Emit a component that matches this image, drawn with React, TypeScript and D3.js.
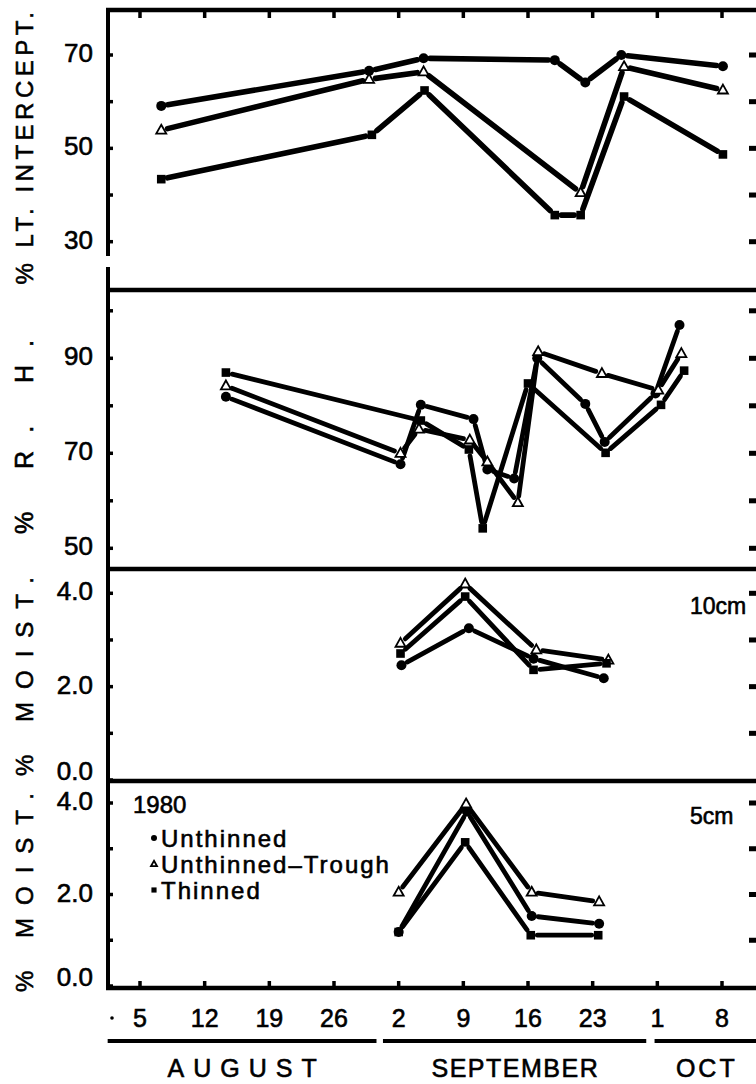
import React from "react";
import * as d3 from "d3";

const FONT = "'Liberation Sans', Arial, sans-serif";

// ---- x axis (days counted from Aug 1) ----
const WEEK_DAYS = [5, 12, 19, 26, 33, 40, 47, 54, 61, 68];
const WEEK_LABELS = ["5", "12", "19", "26", "2", "9", "16", "23", "1", "8"];
const MONTH_NAMES = ["AUGUST", "SEPTEMBER", "OCT"];
const MONTH_FROM = [1.5, 31.3, 60.7];
const MONTH_TO = [30.6, 59.8, 72];

const SERIES_NAMES = ["Unthinned", "Unthinned\u2013Trough", "Thinned"];
const LEGEND_YEAR = "1980";

// ---- % light intercept ----
const LT_U_DAY = [7.3, 29.8, 35.7, 49.9, 53.2, 57.1, 68.1];
const LT_U = [59.1, 66.6, 69.3, 68.9, 64.1, 70.0, 67.6];
const LT_T_DAY = [7.3, 29.8, 35.7, 52.7, 57.4, 68.1];
const LT_T = [53.9, 64.8, 66.4, 40.5, 67.5, 62.5];
const LT_S_DAY = [7.3, 30.1, 35.8, 49.9, 52.7, 57.4, 68.1];
const LT_S = [43.4, 52.9, 62.4, 35.7, 35.7, 61.1, 48.7];
const LT_TICKS = [30, 40, 50, 60, 70];
const LT_LABELS = [30, 50, 70];

// ---- % R.H. ----
const RH_U_DAY = [14.3, 33.2, 35.4, 41.1, 42.6, 45.5, 48.0, 53.2, 55.3, 60.8, 63.4];
const RH_U = [81.9, 67.7, 80.2, 77.2, 66.6, 64.7, 90.0, 80.4, 72.4, 82.6, 97.0];
const RH_T_DAY = [14.3, 33.2, 35.2, 40.7, 42.6, 45.9, 48.1, 55.0, 61.1, 63.6];
const RH_T = [84.2, 70.0, 75.1, 72.8, 68.2, 59.6, 91.4, 86.8, 83.3, 91.0];
const RH_S_DAY = [14.3, 35.4, 40.6, 42.1, 47.0, 55.4, 61.4, 63.9];
const RH_S = [87.0, 76.9, 70.8, 54.2, 84.7, 70.1, 80.2, 87.4];
const RH_TICKS = [50, 60, 70, 80, 90, 100];
const RH_LABELS = [50, 70, 90];

// ---- % moisture 10 cm ----
const M10_U_DAY = [33.3, 40.6, 47.6, 55.2];
const M10_U = [2.46, 3.25, 2.6, 2.18];
const M10_T_DAY = [33.2, 40.2, 47.9, 55.7];
const M10_T = [2.93, 4.2, 2.79, 2.57];
const M10_S_DAY = [33.2, 40.2, 47.6, 55.5];
const M10_S = [2.71, 3.93, 2.36, 2.5];

// ---- % moisture 5 cm ----
const M5_U_DAY = [33.0, 40.4, 47.4, 54.7];
const M5_U = [1.18, 3.81, 1.53, 1.36];
const M5_T_DAY = [33.0, 40.3, 47.4, 54.7];
const M5_T = [2.05, 3.98, 2.05, 1.84];
const M5_S_DAY = [33.0, 40.2, 47.3, 54.6];
const M5_S = [1.18, 3.14, 1.11, 1.11];

const M_TICKS = [0, 1, 2, 3, 4];
const M_LABELS = [0, 2, 4];

type Kind = "circle" | "triangle" | "square";
type Series = { kind: Kind; days: number[]; values: number[] };

function makeSeries(kind: Kind, days: number[], values: number[]): Series {
  return { kind, days, values };
}

function gapped(pts: [number, number][], gap: number) {
  const segs: [number, number, number, number][] = [];
  for (let i = 0; i < pts.length - 1; i++) {
    const [x1, y1] = pts[i];
    const [x2, y2] = pts[i + 1];
    const len = Math.hypot(x2 - x1, y2 - y1);
    if (len <= gap * 2 + 1) continue;
    const ux = (x2 - x1) / len;
    const uy = (y2 - y1) / len;
    segs.push([x1 + ux * gap, y1 + uy * gap, x2 - ux * gap, y2 - uy * gap]);
  }
  return segs;
}

function Marker({ kind, x, y, s = 1 }: { kind: Kind; x: number; y: number; s?: number }) {
  if (kind === "circle") return <circle cx={x} cy={y} r={5 * s} fill="#000" />;
  if (kind === "square")
    return <rect x={x - 4.3 * s} y={y - 4.3 * s} width={8.6 * s} height={8.6 * s} fill="#000" />;
  const h = 5.4 * s;
  return (
    <path
      d={`M${x},${y - h}L${x + 5 * s},${y + h * 0.65}L${x - 5 * s},${y + h * 0.65}Z`}
      fill="#fff"
      stroke="#000"
      strokeWidth={1.8}
    />
  );
}

const TXT = { fill: "#000", stroke: "#000", strokeWidth: 0.6 };

export default function App() {
  const W = 756;
  const H = 1084;
  const LEFT = 108;
  const RIGHT = 770;
  const TOP = 10;
  const BOTTOM = 988;

  const x = d3.scaleLinear().domain([5, 68]).range([140, 722]);

  const panels = [
    {
      top: TOP,
      bottom: 290,
      y: d3.scaleLinear().domain([30, 70]).range([241.7, 55]),
      ticks: LT_TICKS,
      labels: LT_LABELS,
      fmt: (d: number) => String(d),
      title: "% LT. INTERCEPT.",
      titleSpacing: 4.5,
      titleY: 146,
      titleSize: 24,
      series: [
        makeSeries("circle", LT_U_DAY, LT_U),
        makeSeries("triangle", LT_T_DAY, LT_T),
        makeSeries("square", LT_S_DAY, LT_S),
      ],
      lw: 5.6,
    },
    {
      top: 290,
      bottom: 569,
      y: d3.scaleLinear().domain([50, 90]).range([548.3, 358.3]),
      ticks: RH_TICKS,
      labels: RH_LABELS,
      fmt: (d: number) => String(d),
      title: "% R. H.",
      titleSpacing: 18,
      titleY: 428,
      titleSize: 25,
      series: [
        makeSeries("circle", RH_U_DAY, RH_U),
        makeSeries("triangle", RH_T_DAY, RH_T),
        makeSeries("square", RH_S_DAY, RH_S),
      ],
      lw: 4.8,
    },
    {
      top: 569,
      bottom: 781,
      y: d3.scaleLinear().domain([0, 4]).range([780, 593.3]),
      ticks: M_TICKS,
      labels: M_LABELS,
      fmt: d3.format(".1f"),
      title: "% MOIST.",
      titleSpacing: 13,
      titleY: 670,
      titleSize: 24,
      series: [
        makeSeries("circle", M10_U_DAY, M10_U),
        makeSeries("triangle", M10_T_DAY, M10_T),
        makeSeries("square", M10_S_DAY, M10_S),
      ],
      lw: 4.8,
      depth: "10cm",
    },
    {
      top: 781,
      bottom: BOTTOM,
      y: d3.scaleLinear().domain([0, 4]).range([986, 803]),
      ticks: M_TICKS,
      labels: M_LABELS,
      fmt: d3.format(".1f"),
      title: "% MOIST.",
      titleSpacing: 13,
      titleY: 886,
      titleSize: 24,
      series: [
        makeSeries("circle", M5_U_DAY, M5_U),
        makeSeries("triangle", M5_T_DAY, M5_T),
        makeSeries("square", M5_S_DAY, M5_S),
      ],
      lw: 4.8,
      depth: "5cm",
    },
  ];

  const monthSpacing = [9, 1.5, 3];
  const legendKinds: Kind[] = ["circle", "triangle", "square"];

  return (
    <div style={{ position: "absolute", left: 0, top: 0 }}>
      <svg width={W} height={H} style={{ display: "block", background: "#fff" }} fontFamily={FONT}>
        {/* frame: top line, left axis (with break), separators, bottom */}
        <line x1={LEFT - 2} x2={RIGHT} y1={TOP} y2={TOP} stroke="#000" strokeWidth={4.5} />
        <line x1={LEFT} x2={LEFT} y1={TOP - 2} y2={256} stroke="#000" strokeWidth={4} />
        <line x1={LEFT} x2={LEFT} y1={267} y2={BOTTOM + 2} stroke="#000" strokeWidth={4} />
        {panels.slice(1).map((p, i) => (
          <line key={"sep" + i} x1={LEFT} x2={RIGHT} y1={p.top} y2={p.top} stroke="#000" strokeWidth={4.5} />
        ))}
        <line x1={LEFT - 2} x2={RIGHT} y1={BOTTOM} y2={BOTTOM} stroke="#000" strokeWidth={4.5} />

        {/* top and bottom week ticks */}
        {WEEK_DAYS.map((d, i) => (
          <g key={"wt" + i}>
            <line x1={x(d)} x2={x(d)} y1={TOP} y2={TOP + 8} stroke="#000" strokeWidth={3.5} />
            <line x1={x(d)} x2={x(d)} y1={BOTTOM} y2={BOTTOM - 7} stroke="#000" strokeWidth={3.5} />
            <text x={x(d)} y={1027} fontSize={25} textAnchor="middle" {...TXT}>
              {WEEK_LABELS[i]}
            </text>
          </g>
        ))}
        <circle cx={112} cy={1018} r={1.8} fill="#000" />

        {/* month bars and names */}
        {MONTH_NAMES.map((m, i) => {
          const a = Math.max(LEFT - 1, x(MONTH_FROM[i]));
          const b = Math.min(RIGHT, x(MONTH_TO[i]));
          return (
            <g key={"m" + i}>
              <line x1={a} x2={b} y1={1041} y2={1041} stroke="#000" strokeWidth={4.2} />
              <text
                x={(a + Math.min(W, b)) / 2 + monthSpacing[i] / 2}
                y={1077}
                fontSize={25}
                textAnchor="middle"
                letterSpacing={monthSpacing[i]}
                {...TXT}
              >
                {m}
              </text>
            </g>
          );
        })}

        {panels.map((p, pi) => {
          return (
            <g key={"p" + pi}>
              {/* axis title */}
              <text
                transform={`translate(24,${p.titleY}) rotate(-90)`}
                fontSize={p.titleSize}
                textAnchor="middle"
                dominantBaseline="central"
                letterSpacing={p.titleSpacing}
                {...TXT}
              >
                {p.title}
              </text>
              {/* left ticks and right ticks */}
              {p.ticks.map((t, ti) => (
                <g key={"t" + ti}>
                  <line x1={LEFT} x2={LEFT + 5} y1={p.y(t)} y2={p.y(t)} stroke="#000" strokeWidth={3.5} />
                  {p.y(t) > p.top + 6 && p.y(t) < p.bottom - 6 && (
                    <rect x={749} y={p.y(t) - 2.5} width={7} height={5} fill="#000" />
                  )}
                </g>
              ))}
              {p.labels.map((t, ti) => {
                const yy = p.y(t);
                const nearBottom = Math.abs(yy - p.bottom) < 8;
                return (
                  <text
                    key={"l" + ti}
                    x={93}
                    y={nearBottom ? yy - 9 : yy - 2}
                    fontSize={26}
                    textAnchor="end"
                    dominantBaseline="central"
                    {...TXT}
                  >
                    {p.fmt(t)}
                  </text>
                );
              })}
              {p.depth && (
                <text x={690} y={p.y(4) + 21} fontSize={23} {...TXT}>
                  {p.depth}
                </text>
              )}
              {/* series */}
              {p.series.map((s, si) => {
                const pts: [number, number][] = s.days.map((d, k) => [x(d), p.y(s.values[k])]);
                const segs = gapped(pts, 6.5);
                return (
                  <g key={"s" + si}>
                    {segs.map((g, gi) => (
                      <line
                        key={gi}
                        x1={g[0]}
                        y1={g[1]}
                        x2={g[2]}
                        y2={g[3]}
                        stroke="#000"
                        strokeWidth={p.lw}
                        strokeLinecap="round"
                      />
                    ))}
                    {pts.map((q, k) => (
                      <Marker key={k} kind={s.kind} x={q[0]} y={q[1]} />
                    ))}
                  </g>
                );
              })}
            </g>
          );
        })}

        {/* legend */}
        <text x={133} y={813} fontSize={24} {...TXT}>
          {LEGEND_YEAR}
        </text>
        {SERIES_NAMES.map((n, i) => {
          const cy = 838 + i * 26;
          return (
            <g key={"lg" + i}>
              <Marker kind={legendKinds[i]} x={154} y={cy} s={0.6} />
              <text x={161} y={cy} fontSize={24} letterSpacing={2} dominantBaseline="central" {...TXT}>
                {n}
              </text>
            </g>
          );
        })}
      </svg>
    </div>
  );
}
